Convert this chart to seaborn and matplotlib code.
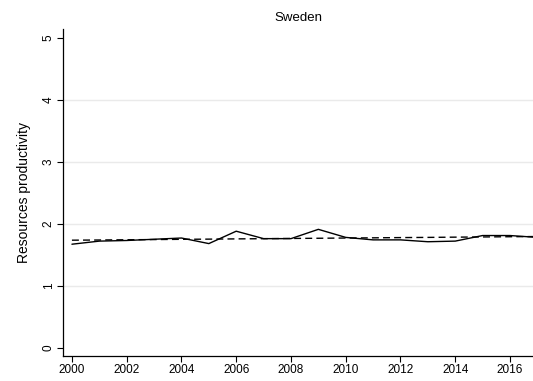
import matplotlib
matplotlib.use("Agg")
import matplotlib.pyplot as plt
import seaborn as sns
import pandas as pd

years = list(range(2000, 2018))
productivity = [1.67, 1.72, 1.73, 1.75, 1.77, 1.68, 1.88, 1.76, 1.76, 1.91,
                1.78, 1.74, 1.74, 1.71, 1.72, 1.81, 1.81, 1.78]
trend = [1.735, 1.738, 1.742, 1.745, 1.749, 1.752, 1.756, 1.759, 1.763, 1.766,
         1.770, 1.773, 1.777, 1.780, 1.784, 1.787, 1.791, 1.794]

df = pd.DataFrame({"year": years + years,
                   "value": productivity + trend,
                   "series": ["Actual"] * len(years) + ["Trend"] * len(years)})

sns.set_style("white")
plt.rcParams["font.family"] = ["Liberation Sans", "DejaVu Sans"]
plt.rcParams["text.color"] = "black"
plt.rcParams["axes.labelcolor"] = "black"
plt.rcParams["xtick.color"] = "black"
plt.rcParams["ytick.color"] = "black"

fig = plt.figure(figsize=(5.33, 3.81), dpi=100)
ax = fig.add_axes([0.118, 0.0656, 0.882, 0.857])

sns.lineplot(data=df, x="year", y="value", hue="series", style="series",
             palette={"Actual": "black", "Trend": "black"},
             dashes={"Actual": "", "Trend": (5, 3)},
             linewidth=1.0, legend=False, ax=ax)

ax.set_xlim(1999.67, 2016.84)
ax.set_ylim(-0.134, 5.135)
ax.set_xticks(range(2000, 2017, 2))
ax.set_yticks(range(0, 6))
ax.set_yticklabels([str(v) for v in range(0, 6)], rotation=90, va="center")
for gy in [1, 2, 3, 4]:
    ax.axhline(gy, color="#eaeaea", linewidth=1.0, zorder=0)

ax.tick_params(axis="both", which="major", length=4, width=0.8, color="black",
               labelcolor="black", labelsize=8.5, direction="out",
               left=True, bottom=True, pad=2)
for side in ["top", "right"]:
    ax.spines[side].set_visible(False)
for side in ["left", "bottom"]:
    ax.spines[side].set_color("black")
    ax.spines[side].set_linewidth(0.9)

ax.set_xlabel("")
ax.set_ylabel("Resources productivity", fontsize=10, labelpad=8, color="black")
ax.set_title("Sweden", fontsize=9.5, pad=6, color="black")

fig.savefig("out.png", dpi=100)
